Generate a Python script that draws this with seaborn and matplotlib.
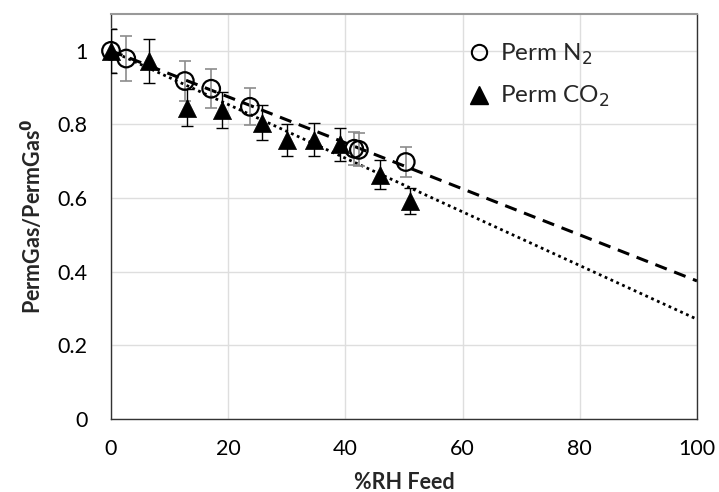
import matplotlib
matplotlib.use("Agg")
import matplotlib.pyplot as plt
import seaborn as sns
import pandas as pd
from matplotlib.lines import Line2D

# ---- data ----
n2_rh = [0.0, 2.6, 12.6, 17.1, 23.7, 41.5, 42.3, 50.3]
n2_perm = [1.0, 0.979, 0.918, 0.897, 0.848, 0.734, 0.731, 0.698]
n2_err = [0.06, 0.06, 0.055, 0.053, 0.05, 0.045, 0.045, 0.042]

co2_rh = [0.0, 6.4, 12.9, 19.0, 25.7, 30.0, 34.7, 39.1, 45.9, 51.1]
co2_perm = [1.0, 0.972, 0.845, 0.839, 0.805, 0.758, 0.759, 0.746, 0.664, 0.593]
co2_err = [0.06, 0.059, 0.05, 0.049, 0.048, 0.043, 0.046, 0.045, 0.039, 0.035]

n2_trend_x = [0, 100]
n2_trend_y = [1.0, 0.375]
co2_trend_x = [0, 100]
co2_trend_y = [1.0, 0.271]

x_ticks = [0, 20, 40, 60, 80, 100]
y_ticks = [0, 0.2, 0.4, 0.6, 0.8, 1.0]
y_ticklabels = ["0", "0.2", "0.4", "0.6", "0.8", "1"]

sns.set_theme(style="whitegrid")
plt.rcParams["font.family"] = ["Lato", "DejaVu Sans"]

fig = plt.figure(figsize=(7.19, 4.92), dpi=100)
ax = fig.add_axes([111 / 719, (492 - 419) / 492, (697 - 111) / 719, (419 - 14) / 492])

df_n2 = pd.DataFrame({"rh": n2_rh, "perm": n2_perm})
df_co2 = pd.DataFrame({"rh": co2_rh, "perm": co2_perm})

# trend lines
sns.lineplot(x=n2_trend_x, y=n2_trend_y, ax=ax, color="black", lw=2.2,
             linestyle=(0, (4, 2.6)), zorder=2)
sns.lineplot(x=co2_trend_x, y=co2_trend_y, ax=ax, color="black", lw=2.0,
             linestyle=(0, (1, 1.3)), zorder=2)

# error bars
ax.errorbar(n2_rh, n2_perm, yerr=n2_err, fmt="none", ecolor="#8c8c8c",
            elinewidth=1.2, capsize=4, capthick=1.2, zorder=3)
ax.errorbar(co2_rh, co2_perm, yerr=co2_err, fmt="none", ecolor="black",
            elinewidth=1.0, capsize=4, capthick=1.0, zorder=3)

# markers
sns.scatterplot(data=df_co2, x="rh", y="perm", ax=ax, marker="^", s=170,
                color="black", edgecolor="black", linewidth=0.5, zorder=4,
                clip_on=False)
sns.scatterplot(data=df_n2, x="rh", y="perm", ax=ax, marker="o", s=160,
                facecolor="none", edgecolor="black", linewidth=1.6, zorder=5,
                clip_on=False)

ax.set_xlim(0, 100)
ax.set_ylim(0, 1.1)
ax.set_xticks(x_ticks)
ax.set_yticks(y_ticks)
ax.set_yticklabels(y_ticklabels)
ax.tick_params(axis="both", direction="in", length=6, width=0.8,
               colors="#222222", labelsize=15.5, labelcolor="black")
ax.tick_params(axis="y", pad=17)
ax.tick_params(axis="x", pad=14.5)
ax.grid(True, color="#dedede", lw=1.0)
for s in ["left", "bottom", "right"]:
    ax.spines[s].set_color("#333333")
    ax.spines[s].set_linewidth(1.0)
ax.spines["top"].set_color("#999999")
ax.spines["top"].set_linewidth(1.5)

ax.set_xlabel("%RH Feed", fontsize=15.5, fontweight="bold", labelpad=9)
ax.set_ylabel("PermGas/PermGas$^{\\mathbf{0}}$", fontsize=15.5, fontweight="bold",
              labelpad=9)

handles = [
    Line2D([], [], marker="o", linestyle="none", markerfacecolor="none",
           markeredgecolor="black", markersize=11, markeredgewidth=1.5),
    Line2D([], [], marker="^", linestyle="none", color="black", markersize=13),
]
ax.legend(handles, ["Perm N$_2$", "Perm CO$_2$"], loc="upper left",
          bbox_to_anchor=(0.565, 0.985), frameon=False, fontsize=17.5,
          handletextpad=0.3, labelspacing=0.7, handlelength=1.2)

fig.savefig("out.png", dpi=100)
